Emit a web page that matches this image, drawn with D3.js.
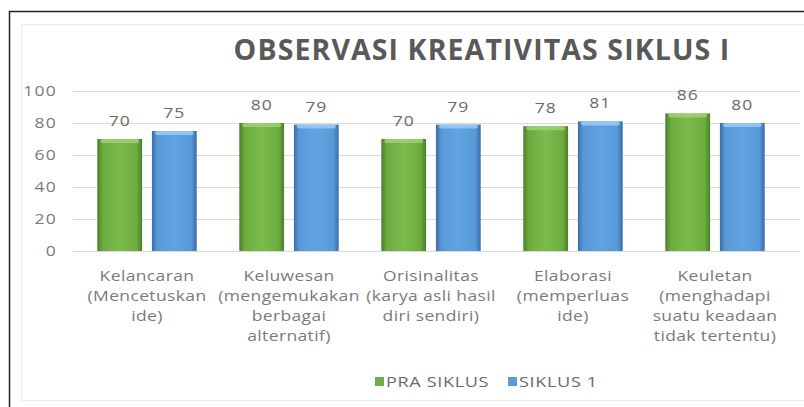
<!DOCTYPE html>
<meta charset="utf-8">
<script src="https://d3js.org/d3.v7.min.js"></script>
<style>
  body { margin: 0; background: #fff; }
  text { font-family: "Open Sans", sans-serif; }
</style>
<body>
<div id="chart"></div>
<script>

// data
var categories = ["Kelancaran", "Keluwesan", "Orisinalitas", "Elaborasi", "Keuletan"];
var catLines = [
  ["Kelancaran", "(Mencetuskan", "ide)"],
  ["Keluwesan", "(mengemukakan", "berbagai", "alternatif)"],
  ["Orisinalitas", "(karya asli hasil", "diri sendiri)"],
  ["Elaborasi", "(memperluas", "ide)"],
  ["Keuletan", "(menghadapi", "suatu keadaan", "tidak tertentu)"]
];
var seriesNames = ["PRA SIKLUS", "SIKLUS 1"];
var praSiklus = [70, 80, 70, 78, 86];
var siklus1 = [75, 79, 79, 81, 80];
var yTicks = [0, 20, 40, 60, 80, 100];

var W = 804, H = 407;
var stretch = 1.25;  // the original text is drawn wide

var svg = d3.select("#chart").append("svg")
    .attr("width", W)
    .attr("height", H);

// gradients for the bevelled bars
var defs = svg.append("defs");
function grad(id, edge, mid, light) {
  var g = defs.append("linearGradient").attr("id", id)
      .attr("x1", "0").attr("x2", "1").attr("y1", "0").attr("y2", "0");
  g.append("stop").attr("offset", "0%").attr("stop-color", edge);
  g.append("stop").attr("offset", "12%").attr("stop-color", mid);
  g.append("stop").attr("offset", "50%").attr("stop-color", light);
  g.append("stop").attr("offset", "88%").attr("stop-color", mid);
  g.append("stop").attr("offset", "100%").attr("stop-color", edge);
}
grad("gGreen", "#4a7f2a", "#6cab3e", "#7cbb4c");
grad("gBlue", "#3a6ea6", "#5898d6", "#62a4e2");
var colors = ["url(#gGreen)", "url(#gBlue)"];
var topColors = ["#9fd477", "#9cd0f5"];
var legendColors = ["#70ad47", "#5b9bd5"];

// text placed at (px,py) and widened horizontally
function wideText(px, py, anchor) {
  return svg.append("g")
      .attr("transform", "translate(" + px + "," + py + ") scale(" + stretch + ",1)")
    .append("text")
      .attr("text-anchor", anchor);
}

// frame
svg.append("rect")
    .attr("x", 21.5).attr("y", 24.5)
    .attr("width", 790).attr("height", 376)
    .attr("fill", "none").attr("stroke", "#ececec");
svg.append("rect")
    .attr("x", 9.5).attr("y", 11.5)
    .attr("width", 810).attr("height", 410)
    .attr("fill", "none").attr("stroke", "#222").attr("stroke-width", 1.5);

// scales
var x = d3.scaleBand().domain(categories).range([76, 786])
    .paddingInner(0.3).paddingOuter(0.15);
var xs = d3.scaleBand().domain(seriesNames).range([0, x.bandwidth()])
    .paddingInner(0.18);
var y = d3.scaleLinear().domain([0, 100]).range([251, 91]);

// gridlines
svg.append("g").selectAll("line")
    .data(yTicks)
    .enter().append("line")
    .attr("x1", 73).attr("x2", 800)
    .attr("y1", function(d) { return Math.round(y(d)) + 0.5; })
    .attr("y2", function(d) { return Math.round(y(d)) + 0.5; })
    .attr("stroke", "#d9d9d9");

// y tick labels
yTicks.forEach(function(d) {
  wideText(57, y(d) + 5, "end")
      .style("font-size", "14px")
      .style("letter-spacing", "1px")
      .attr("fill", "#7a7a7a")
      .text(d);
});

// title
svg.append("text")
    .attr("x", 482).attr("y", 60)
    .attr("text-anchor", "middle")
    .style("font-size", "28.5px")
    .style("font-weight", "bold")
    .style("letter-spacing", "1.1px")
    .attr("fill", "#595959")
    .text("OBSERVASI KREATIVITAS SIKLUS I");

// bars
var series = [praSiklus, siklus1];
series.forEach(function(vals, si) {
  var g = svg.append("g");
  var rows = categories.map(function(c, i) { return {cat: c, v: vals[i]}; });
  g.selectAll("rect.bar")
      .data(rows)
      .enter().append("rect")
      .attr("class", "bar")
      .attr("x", function(d) { return x(d.cat) + xs(seriesNames[si]); })
      .attr("y", function(d) { return y(d.v); })
      .attr("width", xs.bandwidth())
      .attr("height", function(d) { return y(0) - y(d.v); })
      .attr("fill", colors[si]);
  g.selectAll("rect.top")
      .data(rows)
      .enter().append("rect")
      .attr("class", "top")
      .attr("x", function(d) { return x(d.cat) + xs(seriesNames[si]) + 3; })
      .attr("y", function(d) { return y(d.v); })
      .attr("width", xs.bandwidth() - 6)
      .attr("height", 4)
      .attr("rx", 2)
      .attr("fill", topColors[si])
      .attr("opacity", 0.8);
  rows.forEach(function(d) {
    wideText(x(d.cat) + xs(seriesNames[si]) + xs.bandwidth() / 2, y(d.v) - 13, "middle")
        .style("font-size", "14px")
        .style("letter-spacing", "0.8px")
        .attr("fill", "#6a6a6a")
        .text(d.v);
  });
});

// category labels
categories.forEach(function(c, i) {
  var t = wideText(x(c) + x.bandwidth() / 2, 0, "middle")
      .style("font-size", "14px")
      .style("letter-spacing", "0.3px")
      .attr("fill", "#7a7a7a");
  catLines[i].forEach(function(line, j) {
    t.append("tspan")
        .attr("x", 0)
        .attr("y", 281 + j * 20)
        .text(line);
  });
});

// legend
var legendX = [375, 508];
seriesNames.forEach(function(n, i) {
  svg.append("rect")
      .attr("x", legendX[i]).attr("y", 377)
      .attr("width", 9).attr("height", 9)
      .attr("fill", legendColors[i]);
  wideText(legendX[i] + 11, 387, "start")
      .style("font-size", "14.5px")
      .style("letter-spacing", "0.5px")
      .attr("fill", "#6a6a6a")
      .text(n);
});

</script>
</body>
